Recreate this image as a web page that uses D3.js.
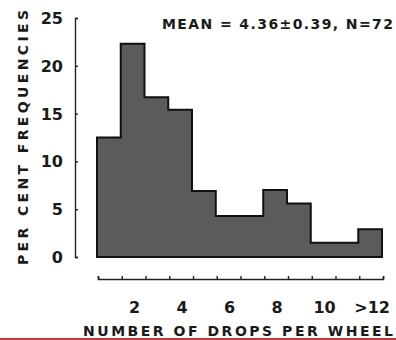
<!DOCTYPE html>
<html>
<head>
<meta charset="utf-8">
<script src="https://cdn.jsdelivr.net/npm/d3@7/dist/d3.min.js"></script>
<style>
  html, body { margin: 0; padding: 0; background: #ffffff; }
  svg { display: block; }
  text { font-family: "DejaVu Sans", "Liberation Sans", sans-serif; font-weight: bold; fill: #1a1a1a; }
</style>
</head>
<body>
<svg id="chart" width="396" height="340"></svg>
<script>
// Drops per wheel: bins 1..12 (last bin is ">12"), percent of wheels
const bins = [1, 2, 3, 4, 5, 6, 7, 8, 9, 10, 11, 12];
const percents = [12.5, 22.3, 16.7, 15.4, 6.9, 4.3, 4.3, 7.0, 5.6, 1.5, 1.5, 2.9];
const xTickValues = [2, 4, 6, 8, 10, 12];
const xTickLabels = ["2", "4", "6", "8", "10", ">12"];
const yTickValues = [0, 5, 10, 15, 20, 25];
const statsLabel = "MEAN = 4.36\u00B10.39, N=72";
const xTitle = "NUMBER OF DROPS PER WHEEL";
const yTitle = "PER CENT FREQUENCIES";

const svg = d3.select("#chart");

const x = d3.scaleLinear().domain([0.5, 12.5]).range([97, 382]);
const y = d3.scaleLinear().domain([0, 25]).range([257, 18]);

// Histogram as one stepped outline
const pts = [[x(0.5), y(0)]];
bins.forEach((b, i) => {
  pts.push([x(b - 0.5), y(percents[i])]);
  pts.push([x(b + 0.5), y(percents[i])]);
});
pts.push([x(12.5), y(0)]);

svg.append("path")
  .attr("d", d3.line()(pts) + "Z")
  .attr("fill", "#5b5b5b")
  .attr("stroke", "#111")
  .attr("stroke-width", 2)
  .attr("stroke-linejoin", "miter");

// Left axis: bracket-shaped line with inward ticks
const yAxis = d3.axisRight(y).tickValues(yTickValues).tickSize(3).tickSizeOuter(3).tickFormat("");
const gy = svg.append("g").attr("transform", "translate(75,0)").call(yAxis);
gy.select(".domain").attr("stroke", "#222").attr("stroke-width", 1.4);
gy.selectAll(".tick line").attr("stroke", "#222").attr("stroke-width", 1.4);

svg.append("g").selectAll("text")
  .data(yTickValues)
  .join("text")
  .attr("x", 63)
  .attr("y", d => y(d) + 6)
  .attr("text-anchor", "end")
  .attr("font-size", 16)
  .text(d => d);

// Bottom axis: detached baseline with small upward ticks at bin edges
const edges = d3.range(0.5, 13, 1);
const xAxis = d3.axisTop(x).tickValues(edges).tickSize(3).tickSizeOuter(3).tickFormat("");
const gx = svg.append("g").attr("transform", "translate(1,279)").call(xAxis);
gx.select(".domain").attr("stroke", "#222").attr("stroke-width", 1.6);
gx.selectAll(".tick line").attr("stroke", "#222").attr("stroke-width", 1.4);

svg.append("g").selectAll("text")
  .data(xTickValues)
  .join("text")
  .attr("x", d => x(d) + 2)
  .attr("y", 313)
  .attr("text-anchor", "middle")
  .attr("font-size", 16)
  .text((d, i) => xTickLabels[i]);

// Summary statistics
svg.append("text")
  .attr("x", 162)
  .attr("y", 29)
  .attr("font-size", 14)
  .attr("textLength", 231)
  .attr("lengthAdjust", "spacing")
  .text(statsLabel);

// Axis titles
svg.append("text")
  .attr("transform", "translate(28,265) rotate(-90)")
  .attr("font-size", 14)
  .attr("textLength", 255)
  .attr("lengthAdjust", "spacing")
  .text(yTitle);

svg.append("text")
  .attr("x", 83)
  .attr("y", 336)
  .attr("font-size", 14)
  .attr("textLength", 310)
  .attr("lengthAdjust", "spacing")
  .text(xTitle);

// Red rule along the bottom edge
svg.append("rect")
  .attr("x", 0).attr("y", 338)
  .attr("width", 396).attr("height", 2)
  .attr("fill", "#c83a3a");
</script>
</body>
</html>
